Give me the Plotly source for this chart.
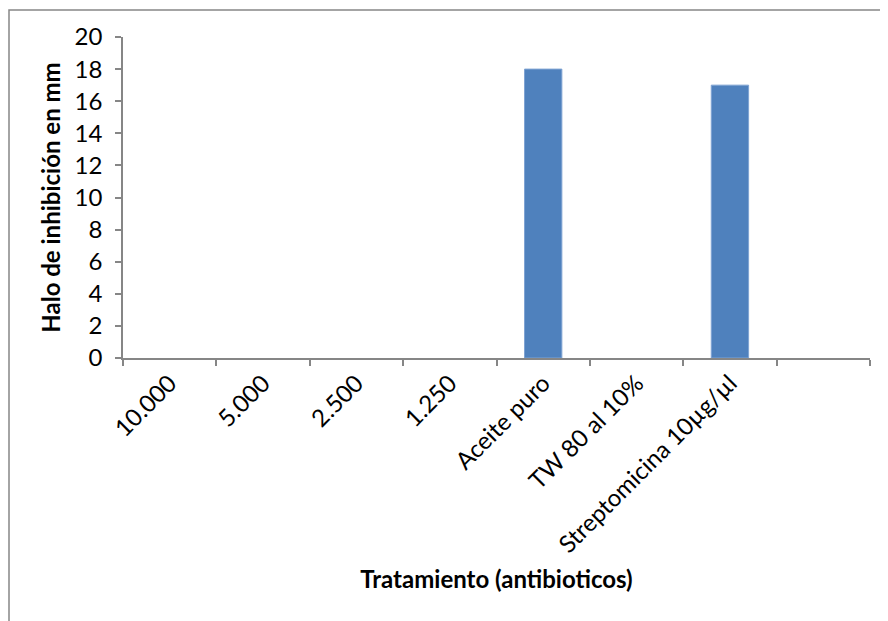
import plotly.graph_objects as go

categories = ["10.000", "5.000", "2.500", "1.250", "Aceite puro", "TW 80 al 10%", "Streptomicina 10µg/µl", " "]
values = [None, None, None, None, 18, None, 17, None]
y_ticks = [0, 2, 4, 6, 8, 10, 12, 14, 16, 18, 20]

W, H = 888, 621
OFF = 8  # page body margin
L, R, T, B = 123 - OFF, 26, 37 - OFF, 621 - (358 - OFF)
pw, ph = W - L - R, H - T - B

def px_x(p):
    return (p - OFF - L) / pw

def px_y(p):
    return (H - B - (p - OFF)) / ph

axis_col = "#868686"
font = "Lato"

fig = go.Figure()
fig.add_trace(go.Bar(
    x=categories, y=values, width=0.4,
    marker=dict(color="#4F81BD", line=dict(color="#7FA3D3", width=1)),
    showlegend=False,
))

fig.update_layout(
    width=W, height=H,
    margin=dict(l=L, r=R, t=T, b=B, autoexpand=False),
    paper_bgcolor="white", plot_bgcolor="white",
    font=dict(family=font, color="black", size=24),
    bargap=0.6,
    xaxis=dict(
        type="category", tickson="boundaries", ticks="outside", ticklen=6,
        tickcolor=axis_col, tickwidth=1.5, showline=True, linecolor=axis_col, linewidth=1.5,
        tickangle=-45, tickfont=dict(family=font, size=24), showgrid=False, zeroline=False,
        title=dict(text="Tratamiento (antibioticos)", font=dict(family=font, size=24, weight="bold"), standoff=14),
        automargin=False,
    ),
    yaxis=dict(
        range=[0, 20], tickvals=y_ticks, ticks="outside", ticklen=6,
        tickcolor=axis_col, tickwidth=1.5, showline=True, linecolor=axis_col, linewidth=1.5,
        tickfont=dict(family=font, size=24), showgrid=False, zeroline=False,
        ticklabelstandoff=8,
        title=dict(text="Halo de inhibición en mm", font=dict(family=font, size=24, weight="bold"), standoff=7),
        automargin=False,
    ),
    shapes=[dict(
        type="rect", xref="paper", yref="paper",
        x0=px_x(9), x1=px_x(910), y0=px_y(650), y1=px_y(10),
        line=dict(color=axis_col, width=1.5), fillcolor="rgba(0,0,0,0)", layer="below",
    )],
)

fig.write_html("out.html")
